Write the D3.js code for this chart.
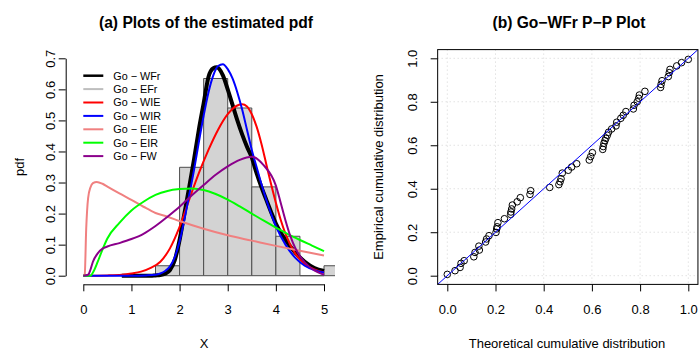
<!DOCTYPE html>
<html>
<head>
<meta charset="utf-8">
<script src="https://cdn.jsdelivr.net/npm/d3@7"></script>
<style>
  body { margin: 0; background: #fff; }
  text { font-family: "Liberation Sans", Arial, Helvetica, sans-serif; fill: #000; }
</style>
</head>
<body>
<svg id="chart" width="699" height="355"></svg>
<script>
// ---- Histogram of the sample (density scale, bin width 0.5) ----
const binLeft = [1.5, 2.0, 2.5, 3.0, 3.5, 4.0, 4.5, 5.0];
const binDensity = [0.032, 0.349, 0.635, 0.540, 0.286, 0.127, 0.0, 0.032];
const binWidth = 0.5;

// ---- Fitted densities ----
const wfrX = [0.8,1.0,1.2,1.4,1.5,1.6,1.7,1.8,1.9,2.0,2.1,2.2,2.3,2.4,2.5,2.6,2.7,2.77,2.9,3.0,3.1,3.2,3.3,3.4,3.5,3.6,3.7,3.8,3.9,4.0,4.2,4.4,4.6,4.8,5.0];
const wfrY = [0,0,0,0,0.001,0.002,0.006,0.018,0.05,0.115,0.2,0.285,0.375,0.47,0.555,0.64,0.668,0.671,0.645,0.60,0.55,0.50,0.455,0.415,0.38,0.33,0.285,0.245,0.205,0.168,0.115,0.075,0.045,0.025,0.015];

const efrX = [0.8,1.0,1.2,1.4,1.5,1.6,1.7,1.8,1.9,2.0,2.1,2.2,2.3,2.4,2.5,2.6,2.7,2.77,2.9,3.0,3.1,3.2,3.3,3.4,3.5,3.6,3.7,3.8,3.9,4.0,4.2,4.4,4.6,4.8,5.0];
const efrY = [0,0,0,0,0.001,0.002,0.006,0.018,0.05,0.115,0.2,0.285,0.375,0.47,0.555,0.64,0.668,0.671,0.645,0.60,0.55,0.50,0.455,0.415,0.38,0.33,0.285,0.245,0.205,0.168,0.115,0.075,0.045,0.025,0.015];

const wieX = [0,0.5,0.8,1.0,1.2,1.4,1.6,1.8,2.0,2.2,2.4,2.6,2.8,3.0,3.2,3.3,3.4,3.5,3.6,3.7,3.8,3.9,4.0,4.1,4.2,4.4,4.6,4.8,5.0];
const wieY = [0,0.001,0.003,0.007,0.013,0.025,0.045,0.088,0.157,0.245,0.33,0.405,0.47,0.52,0.548,0.552,0.545,0.52,0.48,0.425,0.36,0.295,0.235,0.18,0.135,0.072,0.038,0.02,0.01];

const wirX = [0,0.5,1.0,1.3,1.5,1.6,1.7,1.8,1.9,2.0,2.1,2.2,2.3,2.4,2.5,2.6,2.7,2.8,2.9,3.0,3.1,3.2,3.3,3.4,3.5,3.6,3.7,3.8,3.9,4.0,4.2,4.4,4.6,4.8,5.0];
const wirY = [0,0,0,0.001,0.003,0.007,0.015,0.03,0.06,0.11,0.18,0.26,0.34,0.43,0.515,0.59,0.645,0.675,0.681,0.665,0.635,0.59,0.535,0.47,0.405,0.35,0.295,0.245,0.2,0.16,0.1,0.058,0.032,0.018,0.01];

const eieX = [0,0.03,0.06,0.1,0.15,0.2,0.28,0.4,0.5,0.75,1.0,1.25,1.5,1.75,2.0,2.5,3.0,3.5,4.0,4.5,5.0];
const eieY = [0,0.005,0.15,0.25,0.285,0.298,0.302,0.296,0.287,0.265,0.244,0.222,0.202,0.19,0.176,0.151,0.13,0.113,0.096,0.08,0.065];

const eirX = [0,0.15,0.2,0.3,0.4,0.5,0.75,1.0,1.25,1.5,1.75,2.0,2.25,2.5,2.75,3.0,3.25,3.5,3.75,4.0,4.25,4.5,4.75,5.0];
const eirY = [0,0,0.01,0.045,0.085,0.12,0.17,0.21,0.238,0.26,0.273,0.279,0.281,0.276,0.263,0.245,0.223,0.2,0.177,0.155,0.134,0.115,0.097,0.079];

const fwX = [0,0.1,0.15,0.2,0.3,0.4,0.5,0.75,1.0,1.25,1.5,1.75,2.0,2.25,2.5,2.75,3.0,3.25,3.5,3.75,4.0,4.1,4.2,4.3,4.4,4.5,4.6,4.8,5.0];
const fwY = [0,0.003,0.02,0.045,0.072,0.087,0.094,0.105,0.118,0.135,0.16,0.19,0.222,0.258,0.292,0.325,0.352,0.373,0.383,0.355,0.29,0.235,0.178,0.128,0.09,0.063,0.043,0.017,0.003];

const seriesNames = ["Go \u2212 WFr", "Go \u2212 EFr", "Go \u2212 WIE", "Go \u2212 WIR", "Go \u2212 EIE", "Go \u2212 EIR", "Go \u2212 FW"];
const seriesColors = ["#000000", "#bebebe", "#ff0000", "#0000ff", "#f08080", "#00ff00", "#8b008b"];

const pdfXTicks = [0, 1, 2, 3, 4, 5];
const pdfYTicks = [0, 0.1, 0.2, 0.3, 0.4, 0.5, 0.6, 0.7];

// ---- P-P plot for Go-WFr ----
const ppTheo = [0.0,0.032,0.053,0.057,0.07,0.11,0.115,0.133,0.131,0.159,0.163,0.173,0.202,0.205,0.207,0.21,0.237,0.263,0.264,0.267,0.27,0.29,0.303,0.343,0.346,0.425,0.463,0.468,0.472,0.477,0.502,0.516,0.537,0.589,0.595,0.602,0.645,0.647,0.65,0.654,0.658,0.664,0.669,0.682,0.70,0.703,0.72,0.73,0.741,0.772,0.775,0.788,0.794,0.797,0.82,0.885,0.887,0.891,0.917,0.921,0.924,0.952,0.972,1.0];
const ppEmp = [0.006,0.023,0.038,0.057,0.069,0.087,0.107,0.118,0.136,0.155,0.169,0.184,0.199,0.215,0.225,0.244,0.262,0.282,0.293,0.307,0.325,0.34,0.359,0.374,0.391,0.406,0.419,0.432,0.446,0.472,0.485,0.5,0.515,0.532,0.548,0.566,0.581,0.594,0.609,0.621,0.632,0.646,0.66,0.675,0.689,0.706,0.724,0.738,0.755,0.767,0.784,0.8,0.816,0.831,0.848,0.866,0.88,0.897,0.916,0.934,0.949,0.965,0.98,0.995];
const ppTicks = [0, 0.2, 0.4, 0.6, 0.8, 1.0];

const svg = d3.select("#chart");
const fmt1 = d3.format(".1f");

// =============== Panel (a): estimated pdfs ===============
const A = { left: 65.7, right: 335, top: 49.6, bottom: 284.3 };
const xA = d3.scaleLinear().domain([0, 5]).range([83.3, 324]);
const yA = d3.scaleLinear().domain([0, 0.7]).range([275.7, 58.3]);

svg.append("defs").append("clipPath").attr("id", "clipA")
  .append("rect").attr("x", A.left).attr("y", A.top)
  .attr("width", A.right - A.left).attr("height", A.bottom - A.top);

const gA = svg.append("g").attr("clip-path", "url(#clipA)");

// histogram bars
gA.selectAll("path.bar").data(binLeft.map((b, i) => ({ x0: b, d: binDensity[i] })))
  .join("path").attr("class", "bar")
  .attr("d", d => {
    const x0 = xA(d.x0), x1 = xA(d.x0 + binWidth), y0 = yA(0), y1 = yA(d.d);
    return `M${x0},${y0}V${y1}H${x1}V${y0}Z`;
  })
  .attr("fill", "#d3d3d3").attr("stroke", "#4d4d4d").attr("stroke-width", 1);

// density curves
const line = d3.line().x(d => xA(d[0])).y(d => yA(d[1])).curve(d3.curveMonotoneX);
const curves = [
  { xs: efrX, ys: efrY, c: 1, w: 2 },
  { xs: wfrX, ys: wfrY, c: 0, w: 4 },
  { xs: wieX, ys: wieY, c: 2, w: 2 },
  { xs: wirX, ys: wirY, c: 3, w: 2 },
  { xs: eieX, ys: eieY, c: 4, w: 2 },
  { xs: eirX, ys: eirY, c: 5, w: 2 },
  { xs: fwX,  ys: fwY,  c: 6, w: 2 }
];
curves.forEach(s => {
  gA.append("path")
    .attr("d", line(s.xs.map((x, i) => [x, s.ys[i]])))
    .attr("fill", "none").attr("stroke", seriesColors[s.c])
    .attr("stroke-width", s.w).attr("stroke-linejoin", "round");
});

// axes (R-style: line spans first to last tick)
const axA_x = svg.append("g").attr("transform", `translate(0,${A.bottom})`)
  .call(d3.axisBottom(xA).tickValues(pdfXTicks).tickFormat(d3.format("d")).tickSize(7).tickSizeOuter(0).tickPadding(13));
const axA_y = svg.append("g").attr("transform", `translate(${A.left},0)`)
  .call(d3.axisLeft(yA).tickValues(pdfYTicks).tickFormat(fmt1).tickSize(7).tickSizeOuter(0));

// =============== Panel (b): P-P plot ===============
const xB = d3.scaleLinear().domain([0, 1]).range([447.3, 688.3]);
const yB = d3.scaleLinear().domain([0, 1]).range([275.7, 58.3]);
const B = { left: xB(-0.04), right: xB(1.04), top: yB(1.04), bottom: yB(-0.04) };

svg.select("defs").append("clipPath").attr("id", "clipB")
  .append("rect").attr("x", B.left).attr("y", B.top)
  .attr("width", B.right - B.left).attr("height", B.bottom - B.top);

const gB = svg.append("g");
// dotted grid
gB.selectAll("line.gv").data(ppTicks).join("line")
  .attr("x1", d => xB(d)).attr("x2", d => xB(d)).attr("y1", B.top).attr("y2", B.bottom)
  .attr("stroke", "#d3d3d3").attr("stroke-width", 1).attr("stroke-dasharray", "1,3");
gB.selectAll("line.gh").data(ppTicks).join("line")
  .attr("y1", d => yB(d)).attr("y2", d => yB(d)).attr("x1", B.left).attr("x2", B.right)
  .attr("stroke", "#d3d3d3").attr("stroke-width", 1).attr("stroke-dasharray", "1,3");

// points
gB.selectAll("circle").data(ppTheo.map((t, i) => [t, ppEmp[i]])).join("circle")
  .attr("cx", d => xB(d[0])).attr("cy", d => yB(d[1])).attr("r", 3.3)
  .attr("fill", "none").attr("stroke", "#000").attr("stroke-width", 1);

// reference line y = x
gB.append("line").attr("clip-path", "url(#clipB)")
  .attr("x1", xB(-0.1)).attr("y1", yB(-0.1)).attr("x2", xB(1.1)).attr("y2", yB(1.1))
  .attr("stroke", "#0000ff").attr("stroke-width", 1);

// box
gB.append("rect").attr("x", B.left).attr("y", B.top)
  .attr("width", B.right - B.left).attr("height", B.bottom - B.top)
  .attr("fill", "none").attr("stroke", "#000").attr("stroke-width", 1);

const axB_x = svg.append("g").attr("transform", `translate(0,${B.bottom})`)
  .call(d3.axisBottom(xB).tickValues(ppTicks).tickFormat(fmt1).tickSize(7).tickSizeOuter(0).tickPadding(13));
const axB_y = svg.append("g").attr("transform", `translate(${B.left},0)`)
  .call(d3.axisLeft(yB).tickValues(ppTicks).tickFormat(fmt1).tickSize(7).tickSizeOuter(0));
axB_x.select(".domain").remove();
axB_y.select(".domain").remove();

// shared axis styling
[axA_x, axA_y, axB_x, axB_y].forEach(ax => {
  ax.selectAll("path.domain").attr("stroke", "#000").attr("stroke-width", 1);
  ax.selectAll(".tick line").attr("stroke", "#000").attr("stroke-width", 1);
  ax.selectAll("text").style("font-size", "13px").attr("fill", "#000");
});
// vertical tick labels on the y axes (parallel to axis)
[[axA_y, -11], [axB_y, -21]].forEach(([ax, off]) => {
  ax.selectAll(".tick text")
    .attr("x", null).attr("dy", null)
    .attr("text-anchor", "middle")
    .attr("transform", `translate(${off},0) rotate(-90)`);
});

// legend
const leg = svg.append("g");
seriesNames.forEach((name, i) => {
  const yy = 75.7 + i * 13.4;
  leg.append("line").attr("x1", 83.3).attr("x2", 103.3).attr("y1", yy).attr("y2", yy)
    .attr("stroke", seriesColors[i]).attr("stroke-width", i === 0 ? 2.5 : 2);
  leg.append("text").attr("x", 113.3).attr("y", yy).attr("dy", "0.36em")
    .style("font-size", "10.8px").text(name);
});

// titles and axis labels
svg.append("text").attr("x", 206).attr("y", 27.5).attr("text-anchor", "middle")
  .style("font-size", "15.6px").style("font-weight", "bold").text("(a) Plots of the estimated pdf");
svg.append("text").attr("x", 569).attr("y", 27.5).attr("text-anchor", "middle")
  .style("font-size", "15.6px").style("font-weight", "bold").text("(b) Go\u2212WFr P\u2212P Plot");
svg.append("text").attr("x", 204).attr("y", 348).attr("text-anchor", "middle")
  .style("font-size", "13px").text("X");
svg.append("text").attr("x", 567).attr("y", 348).attr("text-anchor", "middle")
  .style("font-size", "13px").text("Theoretical cumulative distribution");
svg.append("text").attr("transform", "translate(23.5,167) rotate(-90)").attr("text-anchor", "middle")
  .style("font-size", "13px").text("pdf");
svg.append("text").attr("transform", "translate(382.5,167) rotate(-90)").attr("text-anchor", "middle")
  .style("font-size", "13px").text("Empirical cumulative distribution");
</script>
</body>
</html>
